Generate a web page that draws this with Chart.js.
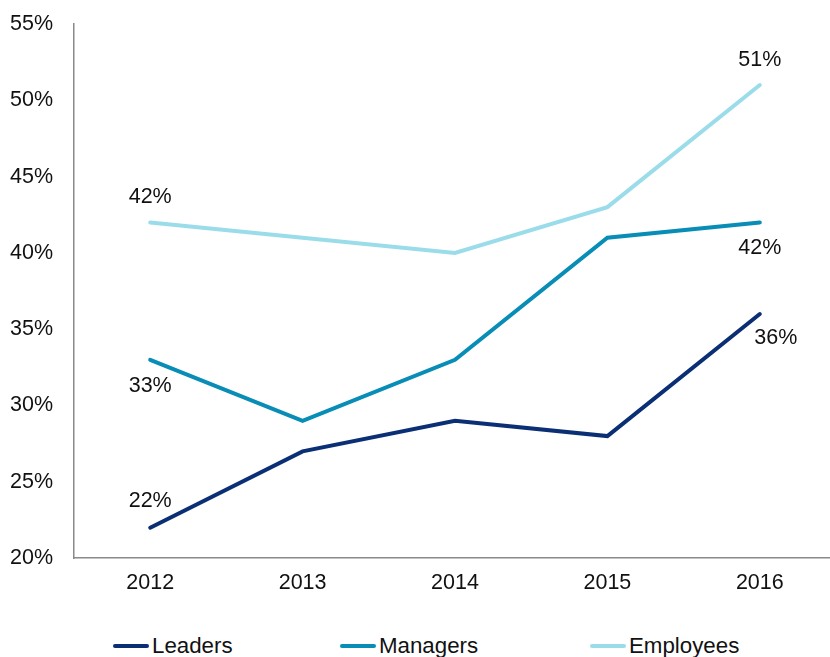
<!DOCTYPE html>
<html>
<head>
<meta charset="utf-8">
<script src="https://cdn.jsdelivr.net/npm/chart.js@4.4.1/dist/chart.umd.min.js"></script>
<style>
  html, body { margin: 0; padding: 0; background: #fff; overflow: hidden; }
  #wrap { position: relative; width: 836px; height: 608px; }
  #legend {
    position: absolute; left: 113px; top: 633px;
    display: flex; align-items: center;
    font-family: "Liberation Sans", Arial, sans-serif; font-size: 22.3px; color: #111;
  }
  #legend .item { display: flex; align-items: center; }
  #legend .item:nth-child(1) { width: 227px; }
  #legend .item:nth-child(2) { width: 250px; }
  #legend .swatch { width: 36px; height: 4px; border-radius: 2px; margin-right: 3px; }
</style>
</head>
<body>
<div id="wrap"><canvas id="trend_chart" width="836" height="608"></canvas></div>
<div id="legend"></div>
<script>
const years = ['2012', '2013', '2014', '2015', '2016'];
const leaders = [22, 27, 29, 28, 36];
const managers = [33, 29, 33, 41, 42];
const employees = [42, 41, 40, 43, 51];
const yTicks = [20, 25, 30, 35, 40, 45, 50, 55];

// which points carry a value label, and where it sits
const labelSpots = [
  { set: 0, idx: 0, dx: 0, dy: -27 },
  { set: 0, idx: 4, dx: 16, dy: 24 },
  { set: 1, idx: 0, dx: 0, dy: 26 },
  { set: 1, idx: 4, dx: 0, dy: 26 },
  { set: 2, idx: 0, dx: 0, dy: -25 },
  { set: 2, idx: 4, dx: 0, dy: -25 }
];

const font = '"Liberation Sans", Arial, sans-serif';

const valueLabels = {
  id: 'valueLabels',
  afterDatasetsDraw(chart) {
    const ctx = chart.ctx;
    ctx.save();
    ctx.font = '21.5px ' + font;
    ctx.fillStyle = '#111';
    ctx.textAlign = 'center';
    ctx.textBaseline = 'middle';
    labelSpots.forEach(s => {
      const pt = chart.getDatasetMeta(s.set).data[s.idx];
      const v = chart.data.datasets[s.set].data[s.idx];
      ctx.fillText(v + '%', pt.x + s.dx, pt.y + s.dy);
    });
    ctx.restore();
  }
};

const chart = new Chart(document.getElementById('trend_chart'), {
  type: 'line',
  data: {
    labels: years,
    datasets: [
      { label: 'Leaders', data: leaders, borderColor: '#0b2f74' },
      { label: 'Managers', data: managers, borderColor: '#078db6' },
      { label: 'Employees', data: employees, borderColor: '#9bdcea' }
    ]
  },
  options: {
    responsive: false,
    animation: false,
    layout: { padding: { top: 24, left: 0, right: 0, bottom: 0 } },
    elements: {
      line: { borderWidth: 4, tension: 0, borderCapStyle: 'round' },
      point: { radius: 0, hoverRadius: 0 }
    },
    plugins: { legend: { display: false }, tooltip: { enabled: false } },
    scales: {
      x: {
        offset: true,
        grid: { display: false, drawTicks: false },
        border: { color: '#8a8a8a', width: 1.5 },
        ticks: {
          color: '#111', padding: 12, autoSkip: false, maxRotation: 0,
          font: { family: font, size: 21.5 }
        }
      },
      y: {
        min: 20,
        max: 55,
        afterFit: s => { s.width = 74; s.paddingTop = 0; s.paddingBottom = 0; },
        afterBuildTicks: s => { s.ticks = yTicks.map(v => ({ value: v })); },
        grid: { display: false, drawTicks: false },
        border: { color: '#8a8a8a', width: 1.5 },
        ticks: {
          color: '#111', padding: 21,
          font: { family: font, size: 21.5 },
          callback: v => v + '%'
        }
      }
    }
  },
  plugins: [valueLabels]
});

// legend drawn as html below the canvas
const legendBox = document.getElementById('legend');
chart.data.datasets.forEach(ds => {
  const item = document.createElement('div');
  item.className = 'item';
  const sw = document.createElement('span');
  sw.className = 'swatch';
  sw.style.background = ds.borderColor;
  item.appendChild(sw);
  item.appendChild(document.createTextNode(ds.label));
  legendBox.appendChild(item);
});
</script>
</body>
</html>
